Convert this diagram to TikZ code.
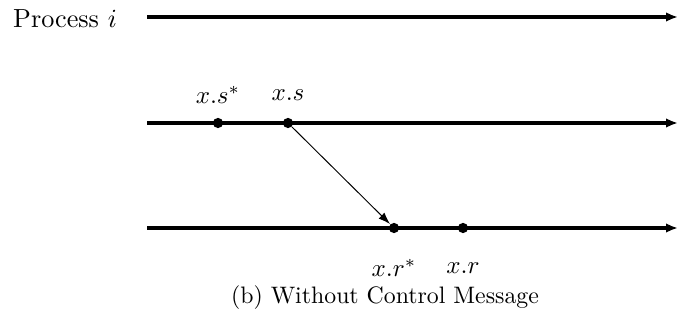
\documentclass[tikz,border=0pt]{standalone}
\usetikzlibrary{arrows.meta}
\begin{document}
\begin{tikzpicture}[x=0.42pt,y=-0.42pt,
  procline/.style={line width=1.4pt,-{Latex[length=5pt,width=4pt]}},
  event/.style={circle,fill=black,inner sep=0pt,minimum size=4.3pt},
  msg/.style={line width=0.4pt,-{Latex[length=5pt,width=3.5pt]}},
  lbl/.style={inner sep=0pt}]
\useasboundingbox (0,0) rectangle (678,323);
\node[lbl,scale=1.1] (pi) at (65,19) {Process $i$};
\coordinate (a1) at (147,17); \coordinate (a2) at (678,17);
\coordinate (b1) at (147,123); \coordinate (b2) at (678,123);
\coordinate (c1) at (147,228); \coordinate (c2) at (678,228);
\draw[procline] (a1) -- (a2);
\draw[procline] (b1) -- (b2);
\draw[procline] (c1) -- (c2);
\node[event] (ss) at (218,123) {};
\node[event] (s) at (288,123) {};
\node[event] (rs) at (394,228) {};
\node[event] (r) at (463,228) {};
\node[lbl,scale=1.05] (lss) at (218,95) {$x.s^*$};
\node[lbl,scale=1.05] (ls) at (288,95) {$x.s$};
\node[lbl,scale=1.05] (lrs) at (394,268) {$x.r^*$};
\node[lbl,scale=1.05] (lr) at (463,268) {$x.r$};
\draw[msg] (s) -- (rs);
\node[lbl] (cap) at (385,298) {(b) Without Control Message};
\end{tikzpicture}
\end{document}
